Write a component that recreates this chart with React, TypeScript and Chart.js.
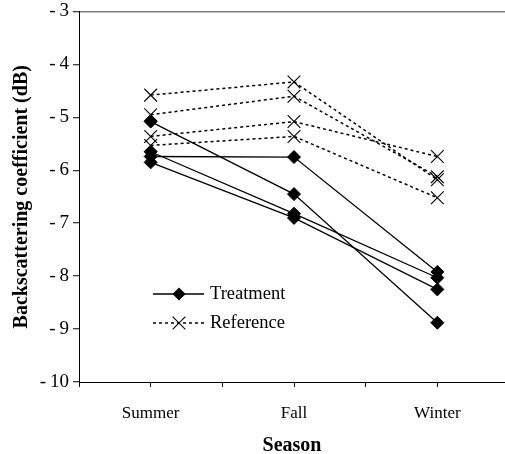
import React, { useEffect, useRef } from 'react';
import { Chart, registerables } from 'chart.js';

Chart.register(...registerables);

// ---- data ----
const seasons = ['Summer', 'Fall', 'Winter'];
const seasonPositions = [1, 3, 5];
const xTickValues = [0, 1, 2, 3, 4, 5];
const xMax = 5.944;
const yMin = -10;
const yMax = -3;

const treatmentA = [-5.08, -6.45, -8.88];
const treatmentB = [-5.74, -5.75, -7.92];
const treatmentC = [-5.65, -6.82, -8.03];
const treatmentD = [-5.85, -6.9, -8.25];

const referenceA = [-4.58, -4.33, -6.18];
const referenceB = [-4.95, -4.6, -6.12];
const referenceC = [-5.36, -5.08, -5.74];
const referenceD = [-5.53, -5.36, -6.52];

const legendLabels = ['Treatment', 'Reference'];
const xAxisTitle = 'Season';
const yAxisTitle = 'Backscattering coefficient (dB)';

const FONT = "'Liberation Serif', 'Times New Roman', serif";

const toPoints = (vals: number[]) => vals.map((v, i) => ({ x: seasonPositions[i], y: v }));

const treatmentStyle = {
  borderColor: '#000',
  borderWidth: 1.3,
  pointStyle: 'rectRot',
  pointRadius: 6.5,
  pointBackgroundColor: '#000',
  pointBorderColor: '#000',
  pointBorderWidth: 1,
  fill: false,
  tension: 0,
};

const referenceStyle = {
  borderColor: '#000',
  borderWidth: 1.5,
  borderDash: [3, 3],
  pointStyle: 'crossRot',
  pointRadius: 9,
  pointBackgroundColor: '#000',
  pointBorderColor: '#000',
  pointBorderWidth: 1.1,
  fill: false,
  tension: 0,
};

const legendPlugin = {
  id: 'insideLegend',
  afterDatasetsDraw(chart: any) {
    const ctx = chart.ctx as CanvasRenderingContext2D;
    const x0 = 153;
    const x1 = 204;
    const xm = 179;
    const textX = 210;
    const rows = [294, 323];
    ctx.save();
    // Treatment row
    ctx.strokeStyle = '#000';
    ctx.lineWidth = 1.3;
    ctx.setLineDash([]);
    ctx.beginPath();
    ctx.moveTo(x0, rows[0]);
    ctx.lineTo(x1, rows[0]);
    ctx.stroke();
    ctx.fillStyle = '#000';
    ctx.beginPath();
    const r = 6.5;
    ctx.moveTo(xm, rows[0] - r);
    ctx.lineTo(xm + r, rows[0]);
    ctx.lineTo(xm, rows[0] + r);
    ctx.lineTo(xm - r, rows[0]);
    ctx.closePath();
    ctx.fill();
    // Reference row
    ctx.lineWidth = 1.5;
    ctx.setLineDash([3, 3]);
    ctx.beginPath();
    ctx.moveTo(x0, rows[1]);
    ctx.lineTo(x1, rows[1]);
    ctx.stroke();
    ctx.setLineDash([]);
    ctx.lineWidth = 1.1;
    const c = 9 * Math.SQRT1_2;
    ctx.beginPath();
    ctx.moveTo(xm - c, rows[1] - c);
    ctx.lineTo(xm + c, rows[1] + c);
    ctx.moveTo(xm - c, rows[1] + c);
    ctx.lineTo(xm + c, rows[1] - c);
    ctx.stroke();
    // Labels
    ctx.font = `18.5px ${FONT}`;
    ctx.textAlign = 'left';
    ctx.textBaseline = 'middle';
    ctx.fillText(legendLabels[0], textX, rows[0]);
    ctx.fillText(legendLabels[1], textX, rows[1]);
    ctx.restore();
  },
};

export default function App() {
  const canvasRef = useRef<HTMLCanvasElement | null>(null);

  useEffect(() => {
    const canvas = canvasRef.current;
    if (!canvas) return;
    const treatments = [treatmentA, treatmentB, treatmentC, treatmentD];
    const references = [referenceA, referenceB, referenceC, referenceD];
    const datasets: any[] = [
      ...references.map((vals, i) => ({
        label: `${legendLabels[1]} ${i + 1}`,
        data: toPoints(vals),
        ...referenceStyle,
      })),
      ...treatments.map((vals, i) => ({
        label: `${legendLabels[0]} ${i + 1}`,
        data: toPoints(vals),
        ...treatmentStyle,
      })),
    ];

    const chart = new Chart(canvas, {
      type: 'line',
      data: { datasets },
      options: {
        responsive: false,
        animation: false,
        devicePixelRatio: 1,
        layout: { autoPadding: false, padding: { top: 11.5, right: 0, bottom: 0, left: 0 } },
        plugins: {
          legend: { display: false },
          tooltip: { enabled: false },
        },
        scales: {
          x: {
            type: 'linear',
            min: 0,
            max: xMax,
            offset: false,
            afterBuildTicks: (scale: any) => {
              scale.ticks = [...xTickValues, xMax].map((v) => ({ value: v }));
            },
            afterFit: (scale: any) => {
              scale.height = 72;
              scale.paddingRight = 0;
              scale.paddingLeft = 0;
            },
            border: { display: true, color: '#000', width: 1 },
            grid: {
              drawOnChartArea: false,
              drawTicks: true,
              tickLength: 5,
              tickColor: (ctx: any) => (ctx.tick && ctx.tick.value === xMax ? 'rgba(0,0,0,0)' : '#000'),
              tickWidth: 1,
            },
            ticks: {
              autoSkip: false,
              maxRotation: 0,
              padding: 16,
              color: '#000',
              font: { family: FONT, size: 17 },
              callback: (v: any) => {
                const idx = seasonPositions.indexOf(Number(v));
                return idx >= 0 ? seasons[idx] : '';
              },
            },
            title: {
              display: true,
              text: xAxisTitle,
              color: '#000',
              font: { family: FONT, size: 20, weight: 'bold', lineHeight: 0.8 },
              padding: { top: 0, bottom: 0 },
            },
          },
          y: {
            type: 'linear',
            min: yMin,
            max: yMax,
            afterFit: (scale: any) => {
              scale.width = 79;
              scale.paddingTop = 0;
              scale.paddingBottom = 0;
            },
            border: { display: true, color: '#000', width: 1 },
            grid: {
              drawOnChartArea: true,
              color: (ctx: any) => (ctx.tick && ctx.tick.value === yMax ? '#808080' : 'rgba(0,0,0,0)'),
              lineWidth: 1.5,
              drawTicks: true,
              tickLength: 6,
              tickColor: '#000',
              tickWidth: 1,
            },
            ticks: {
              stepSize: 1,
              padding: 4,
              color: '#000',
              font: { family: FONT, size: 19 },
              callback: (v: any) => {
                const n = Number(v);
                return n < 0 ? `-\u2009${Math.abs(n)}` : `${n}`;
              },
            },
            title: {
              display: true,
              text: yAxisTitle,
              color: '#000',
              font: { family: FONT, size: 20, weight: 'bold', lineHeight: 1 },
              padding: { top: 12, bottom: 0 },
            },
          },
        },
      } as any,
      plugins: [legendPlugin],
    });

    return () => {
      chart.destroy();
    };
  }, []);

  return (
    <div style={{ position: 'fixed', left: 0, top: 0, width: 505, height: 454, background: '#fff' }}>
      <canvas ref={canvasRef} width={505} height={454} style={{ display: 'block' }} />
    </div>
  );
}
